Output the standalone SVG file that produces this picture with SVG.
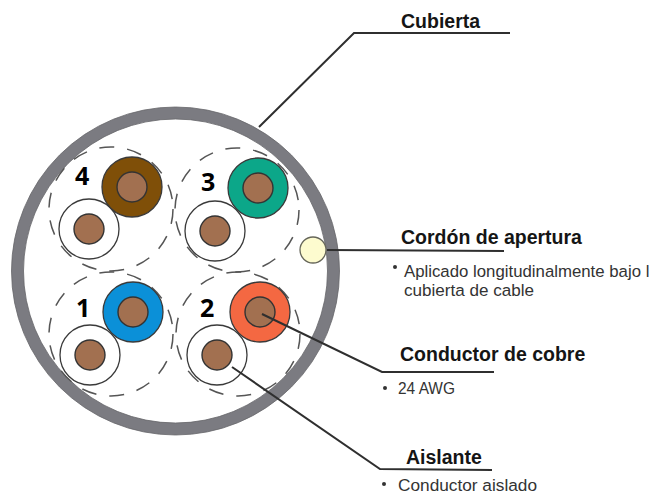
<svg xmlns="http://www.w3.org/2000/svg" width="649" height="494" viewBox="0 0 649 494">
<style>
.jacket{fill:#fff;stroke:#7b7b81;stroke-width:12}
.jacket-edge{fill:none;stroke:#66666a;stroke-width:.8}
.dash{fill:none;stroke:#555;stroke-width:1.5;stroke-dasharray:15 13}
.ins{stroke:#3a3a3a;stroke-width:1.3}
.core{fill:#a27050;stroke:#333;stroke-width:1.4}
.lead{fill:none;stroke:#2f2f2f;stroke-width:2}
.num{font:bold 25px "Open Sans",sans-serif;fill:#000}
.head{font:bold 19.500px "Liberation Sans",Arial,sans-serif;fill:#151515}
.body{font:16.800px "Liberation Sans",Arial,sans-serif;fill:#333}
.dot{fill:#333}
</style>
<rect width="649" height="494" fill="#fff"/>
<g id="cable">
<circle class="jacket" cx="175.500" cy="271" r="158"/>
<circle class="jacket-edge" cx="175.500" cy="271" r="164"/>
<circle class="jacket-edge" cx="175.500" cy="271" r="152"/>
</g>
<g id="pair-4">
<circle class="dash" cx="111" cy="209" r="62"/>
<circle class="ins" fill="#fff" cx="89" cy="229" r="30"/><circle class="core" cx="89" cy="229" r="15"/>
<circle class="ins" fill="#7f4f08" cx="132" cy="187" r="30"/><circle class="core" cx="132" cy="187" r="15"/>
<text class="num" x="75" y="185">4</text>
</g>
<g id="pair-3">
<circle class="dash" cx="237" cy="210" r="62"/>
<circle class="ins" fill="#fff" cx="215" cy="231" r="30"/><circle class="core" cx="215" cy="231" r="15"/>
<circle class="ins" fill="#0ca789" cx="258" cy="188" r="30"/><circle class="core" cx="258" cy="188" r="15"/>
<text class="num" x="201" y="191">3</text>
</g>
<g id="pair-1">
<circle class="dash" cx="111" cy="334" r="62"/>
<circle class="ins" fill="#fff" cx="90" cy="355" r="30"/><circle class="core" cx="90" cy="355" r="15"/>
<circle class="ins" fill="#0b90d8" cx="133" cy="312" r="30"/><circle class="core" cx="133" cy="312" r="15"/>
<text class="num" x="76" y="317">1</text>
</g>
<g id="pair-2">
<circle class="dash" cx="238" cy="334" r="62"/>
<circle class="ins" fill="#fff" cx="217" cy="355" r="30"/><circle class="core" cx="217" cy="355" r="15"/>
<circle class="ins" fill="#f46842" cx="260" cy="312" r="30"/><circle class="core" cx="260" cy="312" r="15"/>
<text class="num" x="200" y="317">2</text>
</g>
<g id="ripcord">
<circle cx="313" cy="250" r="13" fill="#fdfbcf" stroke="#66665a" stroke-width="1.3"/>
</g>
<g id="connectors">
<polyline class="lead" points="259,127 354,33 510,33"/>
<polyline class="lead" points="327,250 504,251"/>
<polyline class="lead" points="262,314 382,372 494,372"/>
<polyline class="lead" points="232,367 380,469 492,470"/>
</g>
<g id="label-cubierta"><text class="head" x="401" y="28">Cubierta</text></g>
<g id="label-cordon">
<text class="head" x="401" y="244">Cordón de apertura</text>
<circle class="dot" cx="395" cy="267" r="2"/>
<text class="body" x="404" y="277">Aplicado longitudinalmente bajo l</text>
<text class="body" x="404" y="296" textLength="130" lengthAdjust="spacingAndGlyphs">cubierta de cable</text>
</g>
<g id="label-conductor">
<text class="head" x="400" y="361">Conductor de cobre</text>
<circle class="dot" cx="385" cy="388" r="2"/>
<text class="body" x="398" y="394" textLength="57" lengthAdjust="spacingAndGlyphs">24 AWG</text>
</g>
<g id="label-aislante">
<text class="head" x="406" y="464">Aislante</text>
<circle class="dot" cx="384" cy="484" r="2"/>
<text class="body" x="398" y="491" textLength="139" lengthAdjust="spacingAndGlyphs">Conductor aislado</text>
</g>
</svg>
